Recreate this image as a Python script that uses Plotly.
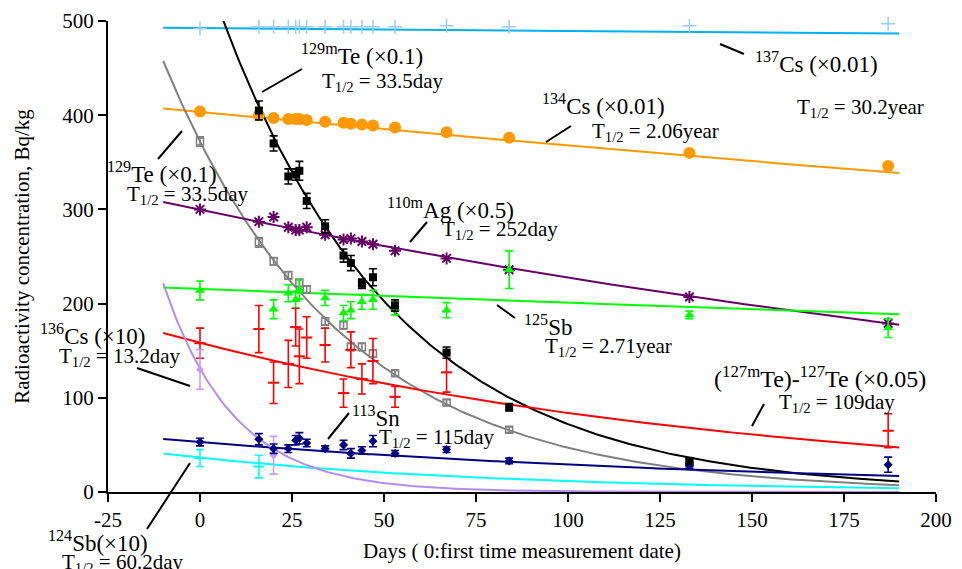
import numpy as np
import plotly.graph_objects as go

# ---------------- data ----------------
days = [0, 16, 20, 24, 26, 27, 29, 34, 39, 41, 44, 47, 53, 67, 84, 133, 187]

cs137 = [492, 494, 494, 494, 494, 494, 494, 494, 494, 494, 494, 494, 494, 495, 494, 495, 497]
cs134 = [404, 400, 397, 396, 396, 396, 395, 393, 392, 391, 390, 389, 387, 382, 376, 360, 346]

te129m = [None, 405, 370, 335, 337, 341, 309, 282, 251, 243, 221, 228, 198, 148, 90, 33, None]
te129m_err = [0, 10, 8, 8, 6, 10, 8, 7, 7, 8, 5, 9, 6, 6, 4, 3, 0]

te129 = [372, 265, 245, 230, None, 222, 215, 181, 177, 154, 154, 147, 126, 95, 66, 30, None]
te129_err = [5, 5, 4, 4, 0, 4, 4, 4, 4, 4, 4, 4, 3, 3, 3, 3, 0]

ag110m = [300, 287, 292, 281, 278, 278, 281, 273, 268, 269, 266, 263, 256, 248, 236, 207, 179]

sb125 = [214, None, 194, 211, 204, 215, None, 206, 190, 193, 202, 204, 195, 193, 236, 188, 174]
sb125_err = [10, 0, 10, 9, 9, 10, 0, 8, 8, 9, 8, 10, 7, 8, 20, 4, 10]

te127 = [158, 173, 116, 136, 175, 144, 164, 156, 105, 151, 120, 139, 101, 127, None, None, 65]
te127_err = [16, 25, 22, 25, 20, 29, 22, 18, 15, 19, 16, 24, 11, 21, 0, 0, 18]

sn113 = [53, 56, 46, 46, 55, 57, 52, 46, 50, 41, 44, 54, 41, 45, 33, 28, 29]
sn113_err = [4, 6, 5, 4, 5, 6, 4, 3, 5, 5, 4, 6, 3, 3, 3, 3, 8]

sb124 = [36, 27, None, None, None, None, None, None, None, None, None, None, None, None, None, None, None]
sb124_err = [9, 12, 0, 0, 0, 0, 0, 0, 0, 0, 0, 0, 0, 0, 0, 0, 0]

cs136 = [130, None, 39, None, None, None, None, None, None, None, None, None, None, None, None, None, None]
cs136_err = [21, 0, 20, 0, 0, 0, 0, 0, 0, 0, 0, 0, 0, 0, 0, 0, 0]

# decay fits: value at day 0 and half-life in days
fit_names = ["cs137", "cs134", "te129m", "te129", "ag110m", "sb125", "te127", "sn113", "sb124", "cs136"]
fit_a0 = [492.5, 403.3, 570, 372, 299.6, 215.5, 158.3, 53, 36.5, 131]
fit_half = [30.2 * 365.25, 2.06 * 365.25, 33.5, 33.5, 252, 2.71 * 365.25, 109, 115, 60.2, 13.2]
fit_colors = ["#00B0F0", "#FF9900", "#000000", "#808080", "#660066", "#00FF00", "#FF0000",
              "#000080", "#00FFFF", "#B48CF0"]
t_fit = np.linspace(-10, 190, 241)

x_ticks = [-25, 0, 25, 50, 75, 100, 125, 150, 175, 200]
x_tick_labels = ["-25", "0", "25", "50", "75", "100", "125", "150", "175", "200"]
y_ticks = [0, 100, 200, 300, 400, 500]
y_tick_labels = ["0", "100", "200", "300", "400", "500"]

FONT = "Liberation Serif"

# plot area in pixels
L, R, T, B = 108, 936, 21, 492
W, H = 962, 569


def px(x, y):
    return (x - L) / (R - L), (B - y) / (B - T)


fig = go.Figure()

# fit lines
for a0, th, c in zip(fit_a0, fit_half, fit_colors):
    fig.add_trace(go.Scatter(x=t_fit, y=a0 * 2 ** (-t_fit / th), mode="lines",
                             line=dict(color=c, width=2), hoverinfo="skip"))


def err(arr, color, width=1.6):
    return dict(type="data", array=arr, visible=True, color=color, thickness=width, width=4)


fig.add_trace(go.Scatter(x=days, y=cs137, mode="markers", cliponaxis=False,
                         marker=dict(symbol="cross-thin-open", size=10, color="#99CCFF",
                                     line=dict(color="#99CCFF", width=1.5))))
fig.add_trace(go.Scatter(x=days, y=cs134, mode="markers",
                         marker=dict(symbol="circle", size=12, color="#FF9900")))
fig.add_trace(go.Scatter(x=days, y=te129, mode="markers", error_y=err(te129_err, "#808080"),
                         marker=dict(symbol="square-open", size=7, color="#808080",
                                     line=dict(color="#808080", width=1.5))))
fig.add_trace(go.Scatter(x=days, y=ag110m, mode="markers",
                         marker=dict(symbol="asterisk-open", size=10, color="#660066",
                                     line=dict(color="#660066", width=2))))
fig.add_trace(go.Scatter(x=days, y=sb125, mode="markers", error_y=err(sb125_err, "#00FF00"),
                         marker=dict(symbol="triangle-up", size=9, color="#00FF00")))
fig.add_trace(go.Scatter(x=days, y=te127, mode="markers", error_y=err(te127_err, "#FF0000"),
                         marker=dict(symbol="line-ew-open", size=8, color="#FF0000",
                                     line=dict(color="#FF0000", width=2))))
fig.add_trace(go.Scatter(x=days, y=sb124, mode="markers", error_y=err(sb124_err, "#00FFFF"),
                         marker=dict(symbol="line-ew-open", size=8, color="#00FFFF",
                                     line=dict(color="#00FFFF", width=2))))
fig.add_trace(go.Scatter(x=days, y=cs136, mode="markers", error_y=err(cs136_err, "#CC99FF"),
                         marker=dict(symbol="diamond", size=6, color="#CC99FF")))
fig.add_trace(go.Scatter(x=days, y=sn113, mode="markers", error_y=err(sn113_err, "#000080"),
                         marker=dict(symbol="diamond", size=7, color="#000080")))
fig.add_trace(go.Scatter(x=days, y=te129m, mode="markers", error_y=err(te129m_err, "#000000"),
                         marker=dict(symbol="square", size=8, color="#000000")))

# labels: (text, left pixel, centre pixel, size)
labels = [
    ("<sup>129m</sup>Te (×0.1)", 299, 55, 23),
    ("T<sub>1/2</sub> = 33.5day", 320, 82, 21),
    ("<sup>137</sup>Cs (×0.01)", 753, 63, 23),
    ("<sup>134</sup>Cs (×0.01)", 540, 105, 23),
    ("T<sub>1/2</sub> = 2.06year", 590, 132, 21),
    ("T<sub>1/2</sub> = 30.2year", 795, 108, 21),
    ("<sup>129</sup>Te (×0.1)", 105, 172, 23),
    ("T<sub>1/2</sub> = 33.5day", 125, 195, 21),
    ("<sup>110m</sup>Ag (×0.5)", 385, 208, 23),
    ("T<sub>1/2</sub> = 252day", 440, 230, 21),
    ("<sup>125</sup>Sb", 522, 325, 23),
    ("T<sub>1/2</sub> = 2.71year", 543, 347, 21),
    ("<sup>136</sup>Cs (×10)", 38, 334, 23),
    ("T<sub>1/2</sub> = 13.2day", 57, 357, 21),
    ("(<sup>127m</sup>Te)-<sup>127</sup>Te (×0.05)", 712, 377, 24),
    ("T<sub>1/2</sub> = 109day", 777, 403, 21),
    ("<sup>113</sup>Sn", 350, 416, 23),
    ("T<sub>1/2</sub> = 115day", 377, 438, 21),
    ("<sup>124</sup>Sb(×10)", 46, 541, 23),
    ("T<sub>1/2</sub> = 60.2day", 60, 563, 21),
]
for text, x0, y0, s in labels:
    xp, yp = px(x0, y0)
    fig.add_annotation(text=text, x=xp, y=yp, xref="paper", yref="paper", xanchor="left",
                       yanchor="middle", showarrow=False, font=dict(family=FONT, size=s, color="black"))

leaders = [
    (262, 92, 302, 69), (720, 44, 744, 54), (546, 142, 571, 126), (158, 159, 182, 131),
    (410, 242, 427, 222), (497, 305, 515, 318), (137, 368, 190, 386), (752, 426, 764, 404),
    (328, 439, 349, 413), (147, 529, 190, 463),
]
for x0, y0, x1, y1 in leaders:
    a, b = px(x0, y0)
    c, d = px(x1, y1)
    fig.add_shape(type="line", xref="paper", yref="paper", x0=a, y0=b, x1=c, y1=d,
                  line=dict(color="black", width=2))

axis_common = dict(showline=True, linecolor="black", linewidth=2, ticks="outside", ticklen=8,
                   tickwidth=2, tickcolor="black", showgrid=False, zeroline=False,
                   tickfont=dict(family=FONT, size=21, color="black"))
fig.update_xaxes(range=[-25, 200], tickmode="array", tickvals=x_ticks, ticktext=x_tick_labels,
                 title=dict(text="Days ( 0:first time measurement date)", standoff=12,
                            font=dict(family=FONT, size=21, color="black")), **axis_common)
fig.update_yaxes(range=[0, 500], tickmode="array", tickvals=y_ticks, ticktext=y_tick_labels,
                 title=dict(text="Radioactivity concentration, Bq/kg", standoff=27,
                            font=dict(family=FONT, size=21, color="black")), **axis_common)

fig.update_layout(width=W, height=H, showlegend=False, plot_bgcolor="white", paper_bgcolor="white",
                  margin=dict(l=L, r=W - R, t=T, b=H - B, autoexpand=False),
                  font=dict(family=FONT, color="black"))

fig.write_html("out.html")
